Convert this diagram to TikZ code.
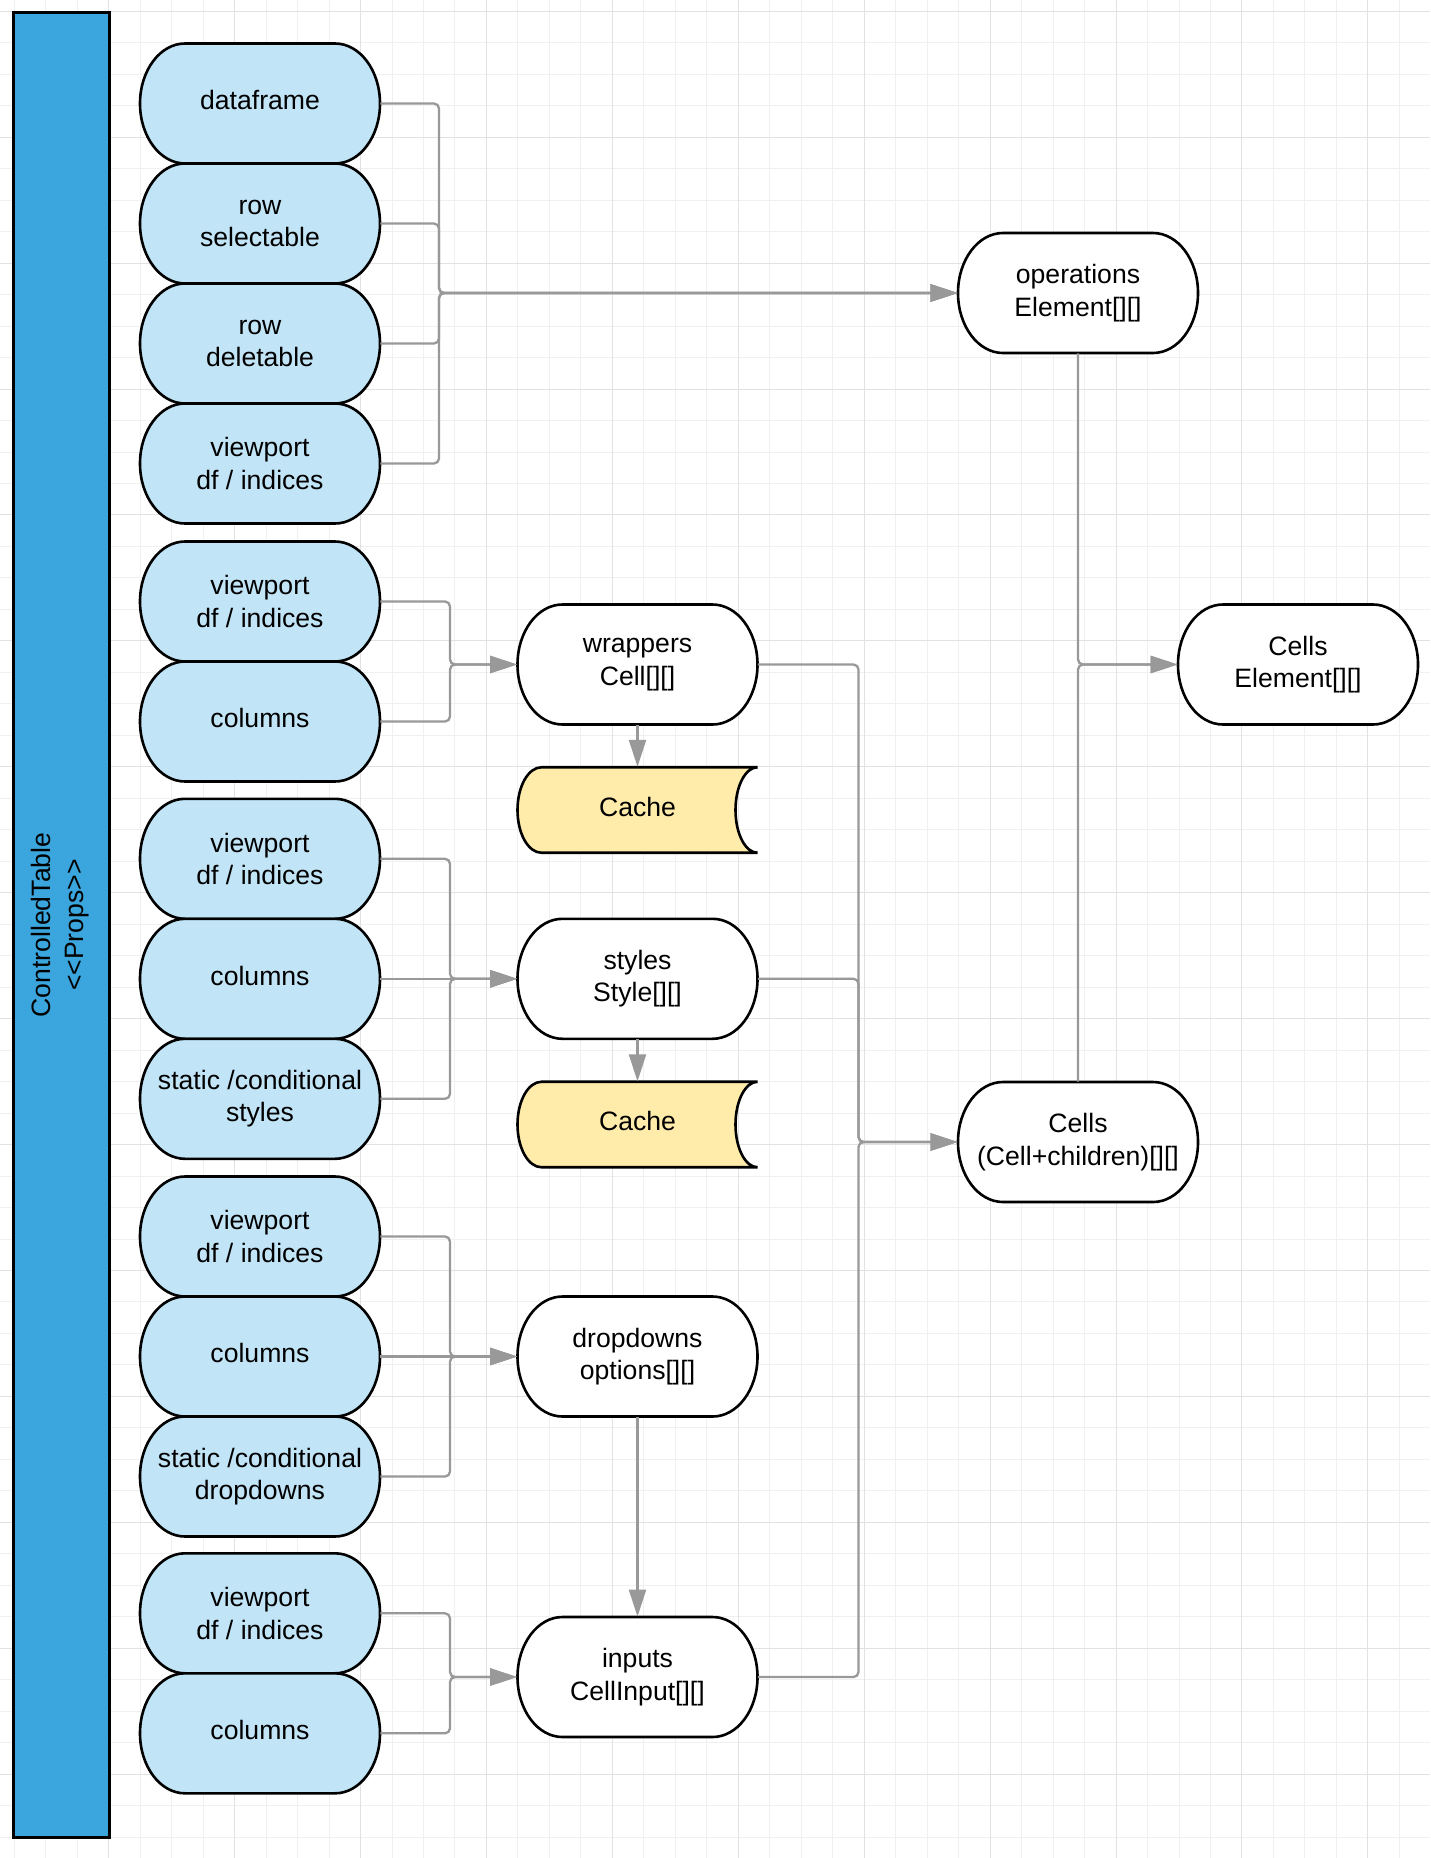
\documentclass[tikz,border=0pt]{standalone}
\usepackage{fontspec}
\setmainfont{Liberation Sans}
\usetikzlibrary{arrows.meta,calc}
\definecolor{pillblue}{HTML}{C1E4F6}
\definecolor{barblue}{HTML}{3AA6DD}
\definecolor{cacheyellow}{HTML}{FFECAA}
\definecolor{conngray}{HTML}{999999}
\definecolor{gridminor}{HTML}{F0F0F0}
\definecolor{gridmajor}{HTML}{E2E2E2}
\tikzset{
  shapeline/.style={draw=black, line width=1.3pt},
  txt/.style={rectangle, inner sep=0pt, align=center, font=\fontsize{13.3}{16.2}\selectfont, text=black},
  pillnode/.style={txt, minimum width=120pt, minimum height=60pt},
  cachenode/.style={txt, minimum width=120pt, minimum height=42.75pt},
  conn/.style={draw=conngray, line width=1.15pt, rounded corners=2.5pt},
  arr/.style={conn, -{Triangle[length=13.5pt,width=8.5pt]}},
  gline/.style={draw=gridminor, line width=0.5pt},
  gmajor/.style={draw=gridmajor, line width=0.5pt},
}
\newcommand\pill[5]{%
  \path[shapeline, fill=#4] ($(#2,#3)+(-75,-60)$) -- ++(150,0)
    arc[start angle=90, end angle=-90, x radius=22.5pt, y radius=30pt]
    -- ++(-150,0)
    arc[start angle=270, end angle=90, x radius=22.5pt, y radius=30pt] -- cycle;
  \node[pillnode] (#1) at (#2,#3) {#5};}
\newcommand\cacheshape[3]{%
  \path[shapeline, fill=cacheyellow] ($(#2,#3)+(-96,-42.75)$) -- ++(216,0)
    arc[start angle=90, end angle=270, x radius=11pt, y radius=21.375pt]
    -- ++(-216,0)
    arc[start angle=270, end angle=90, x radius=12pt, y radius=21.375pt] -- cycle;
  \node[cachenode] (#1) at (#2,#3) {\strut Cache};}
\begin{document}
\begin{tikzpicture}[x=0.5pt, y=-0.5pt]
\useasboundingbox (0,0) rectangle (1430,1858);
\fill[white] (0,0) rectangle (1430,1858);
% grid
\foreach \k in {-3,...,41} \draw[gline] ({108.7+31.48*\k},0) -- ({108.7+31.48*\k},1858);
\foreach \k in {0,...,58} \draw[gline] (0,{11.3+31.48*\k}) -- (1430,{11.3+31.48*\k});
\foreach \k in {0,4,...,40} \draw[gmajor] ({108.7+31.48*\k},0) -- ({108.7+31.48*\k},1858);
\foreach \k in {0,4,...,56} \draw[gmajor] (0,{11.3+31.48*\k}) -- (1430,{11.3+31.48*\k});
% side bar
\node[rectangle, draw=black, line width=1.5pt, fill=barblue, minimum width=47.75pt, minimum height=912.5pt, inner sep=0pt] (bar) at (61.25,924.5) {};
\node[txt, rotate=90] (bartext) at (60,925) {ControlledTable\\<\kern0pt<Props>\kern0pt>};
% left column
\pill{df}{260}{103.5}{pillblue}{\strut dataframe}
\pill{rsel}{260}{223.5}{pillblue}{row\\selectable}
\pill{rdel}{260}{343.5}{pillblue}{row\\deletable}
\pill{vpa}{260}{463.5}{pillblue}{viewport\\df / indices}
\pill{vpb}{260}{601.5}{pillblue}{viewport\\df / indices}
\pill{colb}{260}{721.5}{pillblue}{\strut columns}
\pill{vpc}{260}{858.8}{pillblue}{viewport\\df / indices}
\pill{colc}{260}{978.8}{pillblue}{\strut columns}
\pill{stc}{260}{1098.8}{pillblue}{static /conditional\\styles}
\pill{vpd}{260}{1236.5}{pillblue}{viewport\\df / indices}
\pill{cold}{260}{1356.5}{pillblue}{\strut columns}
\pill{std}{260}{1476.5}{pillblue}{static /conditional\\dropdowns}
\pill{vpe}{260}{1613.3}{pillblue}{viewport\\df / indices}
\pill{cole}{260}{1733.3}{pillblue}{\strut columns}
% middle column
\pill{wrap}{637.5}{664.5}{white}{wrappers\\Cell[][]}
\cacheshape{cachea}{637.5}{810}
\pill{sty}{637.5}{978.8}{white}{styles\\Style[][]}
\cacheshape{cacheb}{637.5}{1124.5}
\pill{drop}{637.5}{1356.5}{white}{dropdowns\\options[][]}
\pill{inp}{637.5}{1677}{white}{inputs\\CellInput[][]}
% right column
\pill{ops}{1078}{293}{white}{operations\\Element[][]}
\pill{celle}{1298}{664.5}{white}{Cells\\Element[][]}
\pill{cellc}{1078}{1142}{white}{Cells\\(Cell+children)[][]}
% junctions
\coordinate (ja) at (439,293);
\coordinate (jb) at (450,664.5);
\coordinate (jc) at (450,978.8);
\coordinate (jd) at (450,1356.5);
\coordinate (je) at (450,1677);
\coordinate (jf) at (858.5,1142);
\coordinate (jg) at (1078,664.5);
% connectors
\foreach \n in {df,rsel,rdel,vpa} \draw[arr] (\n.east) -| (ja) -- (ops.west);
\foreach \n in {vpb,colb} \draw[arr] (\n.east) -| (jb) -- (wrap.west);
\foreach \n in {vpc,stc} \draw[arr] (\n.east) -| (jc) -- (sty.west);
\draw[arr] (colc.east) -- (sty.west);
\foreach \n in {vpd,std} \draw[arr] (\n.east) -| (jd) -- (drop.west);
\draw[arr] (cold.east) -- (drop.west);
\foreach \n in {vpe,cole} \draw[arr] (\n.east) -| (je) -- (inp.west);
\foreach \n in {wrap,sty,inp} \draw[arr] (\n.east) -| (jf) -- (cellc.west);
\draw[arr] (ops.south) -- (jg) -- (celle.west);
\draw[arr] (cellc.north) -- (jg) -- (celle.west);
\draw[arr] (wrap.south) -- (cachea.north);
\draw[arr] (sty.south) -- (cacheb.north);
\draw[arr] (drop.south) -- (inp.north);
\end{tikzpicture}
\end{document}
